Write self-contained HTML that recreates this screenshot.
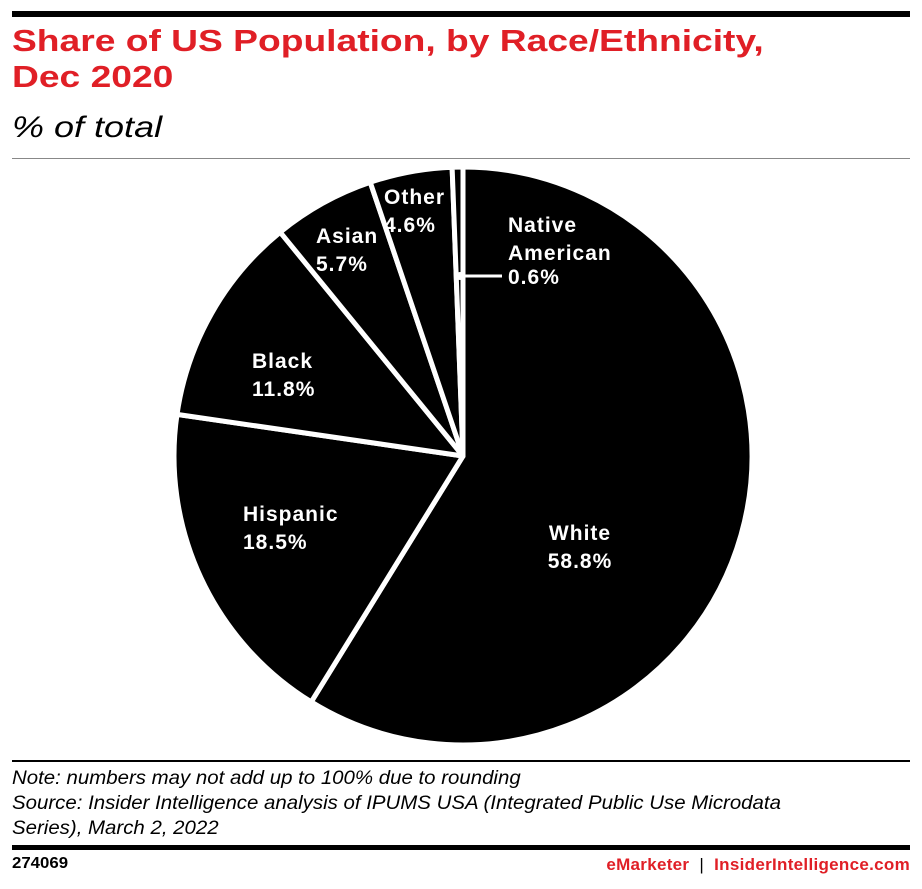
<!DOCTYPE html>
<html><head><meta charset="utf-8"><style>
body{margin:0;background:#fff;width:922px;height:889px;position:relative;overflow:hidden;font-family:"Liberation Sans",sans-serif}
.a{position:absolute}
.sx{transform-origin:0 0}
</style></head><body>
<div class="a" style="left:12px;top:11px;width:898px;height:6px;background:#000"></div>
<div class="a sx" style="left:12px;top:23px;font-size:31px;font-weight:bold;color:#e01f26;line-height:36px;transform:scaleX(1.2);white-space:nowrap">Share of US Population, by Race/Ethnicity,<br>Dec 2020</div>
<div class="a sx" style="left:12px;top:111px;font-size:30px;font-style:italic;color:#000;transform:scaleX(1.2)">% of total</div>
<div class="a" style="left:12px;top:158px;width:898px;height:1px;background:#888"></div>
<svg class="a" style="left:0;top:0" width="922" height="889" id="s"></svg>
<div class="a" style="left:12px;top:760px;width:898px;height:2px;background:#000"></div>
<div class="a sx" style="left:12px;top:766px;font-size:19px;font-style:italic;line-height:25px;color:#000;transform:scaleX(1.075);white-space:nowrap">Note: numbers may not add up to 100% due to rounding<br>Source: Insider Intelligence analysis of IPUMS USA (Integrated Public Use Microdata<br>Series), March 2, 2022</div>
<div class="a" style="left:12px;top:845px;width:898px;height:5px;background:#000"></div>
<div class="a sx" style="left:12px;top:855px;font-size:16px;font-weight:bold;transform:scaleX(1.05)">274069</div>
<div class="a" style="right:12px;top:855px;font-size:17px;font-weight:bold;color:#e01f26;letter-spacing:0.3px"><span>eMarketer</span><span style="color:#000;font-weight:normal">&nbsp;&nbsp;|&nbsp;&nbsp;</span>InsiderIntelligence.com</div>
<script>
var s=document.getElementById('s'),cx=463,cy=456,r=289;
var v=[58.8,18.5,11.8,5.7,4.6,0.6],a=0,h='';
function p(t,rr){return [cx+rr*Math.sin(t),cy-rr*Math.cos(t)];}
for(var i=0;i<v.length;i++){var a2=a+v[i]/100*2*Math.PI;if(i==v.length-1)a2=2*Math.PI;
var p1=p(a,r),p2=p(a2,r);
h+='<path d="M'+cx+','+cy+'L'+p1[0]+','+p1[1]+'A'+r+','+r+' 0 '+((a2-a)>Math.PI?1:0)+' 1 '+p2[0]+','+p2[1]+'Z" fill="#000" stroke="#fff" stroke-width="5" stroke-linejoin="round"/>';a=a2;}
h+='<line x1="460" y1="276" x2="502" y2="276" stroke="#fff" stroke-width="3"/><circle cx="460" cy="276" r="4" fill="#fff"/>';
var L=[[580,533,'White','58.8%','middle'],[243,514,'Hispanic','18.5%','start'],[252,361,'Black','11.8%','start'],[316,236,'Asian','5.7%','start'],[384,197,'Other','4.6%','start'],[508,225,'Native','American','start']];
var st='fill="#fff" font-size="21" font-weight="bold" font-family="Liberation Sans,sans-serif" letter-spacing="1"';
L.forEach(function(l){h+='<text x="'+l[0]+'" y="'+(l[1]+7)+'" '+st+' text-anchor="'+l[4]+'"><tspan x="'+l[0]+'">'+l[2]+'</tspan><tspan x="'+l[0]+'" dy="28">'+l[3]+'</tspan></text>';});
h+='<text x="508" y="284" '+st+'>0.6%</text>';
s.innerHTML=h;
</script>
</body></html>
